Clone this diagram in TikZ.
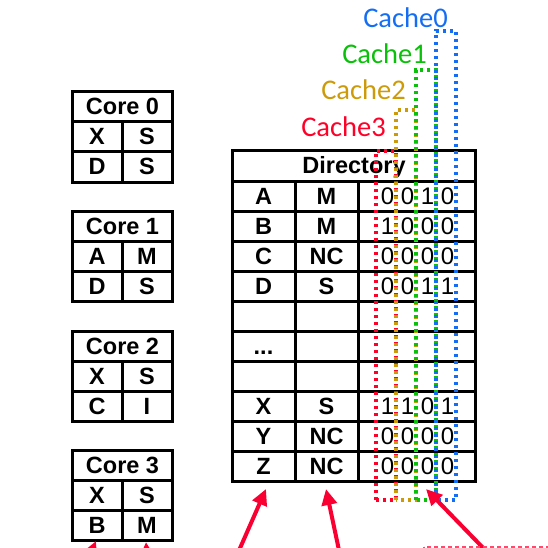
\documentclass[tikz,border=0pt]{standalone}
\usepackage{fontspec}
\setmainfont{Liberation Sans}
\newfontfamily\calfont{Carlito}
\usetikzlibrary{arrows.meta}
\definecolor{cblue}{RGB}{20,110,245}
\definecolor{cgreen}{RGB}{10,192,10}
\definecolor{cgold}{RGB}{205,155,10}
\definecolor{cred}{RGB}{255,0,40}
\definecolor{arred}{RGB}{250,0,50}
\tikzset{
  grid/.style={line width=3pt, line cap=rect},
  bl/.style={font=\fontsize{23.5}{23.5}\selectfont\bfseries, anchor=base, inner sep=0pt},
  bits/.style={font=\fontsize{24}{24}\selectfont, anchor=base, inner sep=0pt},
  cachelbl/.style={font=\calfont\fontsize{28.5}{28.5}\selectfont, anchor=base east, inner sep=0pt},
  dotbox/.style={line width=3.5pt, dash pattern=on 3.3pt off 3.7pt},
  redarrow/.style={draw=arred, line width=4pt, -{Triangle[length=16pt,width=15pt]}},
}
\begin{document}
\begin{tikzpicture}[x=1pt,y=-1pt]
\useasboundingbox (0,0) rectangle (548,548);
\clip (0,0) rectangle (548,548);
% Core tables
\foreach \t/\n/\a/\b/\c/\d in {92/0/X/S/D/S, 211/1/A/M/D/S, 331/2/X/S/C/I, 450/3/X/S/B/M}{
  \draw[grid] (72,\t) rectangle (172,\t+90);
  \draw[grid] (72,\t+30) -- (172,\t+30);
  \draw[grid] (72,\t+60) -- (172,\t+60);
  \draw[grid] (122,\t+30) -- (122,\t+90);
  \node[bl] (core\n) at (122.5,\t+23) {Core \n};
  \node[bl] (core\n a) at (97,\t+53) {\a};
  \node[bl] (core\n b) at (147,\t+53) {\b};
  \node[bl] (core\n c) at (97,\t+83) {\c};
  \node[bl] (core\n d) at (147,\t+83) {\d};
}
% Directory
\draw[grid] (232,151) rectangle (475,481);
\foreach \y in {181,211,...,451}{ \draw[grid] (232,\y) -- (475,\y); }
\draw[grid] (295,181) -- (295,481);
\draw[grid] (358,181) -- (358,481);
\node[bl] (dir) at (354,174) {Directory};
\foreach \i/\t/\a/\s/\v in {1/181/A/M/0 0 1 0, 2/211/B/M/1 0 0 0, 3/241/C/NC/0 0 0 0, 4/271/D/S/0 0 1 1, 8/391/X/S/1 1 0 1, 9/421/Y/NC/0 0 0 0, 10/451/Z/NC/0 0 0 0}{
  \node[bl] (r\i a) at (263.5,\t+23) {\a};
  \node[bl] (r\i s) at (326.5,\t+23) {\s};
  \node[bits] (r\i v) at (417.5,\t+23) {\v};
}
\node[bl] (dots) at (263.5,354) {...};
% Cache dotted boxes
\draw[dotbox, cred] (376,500) -- (376,151) -- (396,151) -- (396,500) -- cycle;
\draw[dotbox, cgold] (396,500) -- (396,110) -- (416,110) -- (416,500) -- cycle;
\draw[dotbox, cgreen] (416,500) -- (416,70) -- (436,70) -- (436,500) -- cycle;
\draw[dotbox, cblue] (436,500) -- (436,31) -- (456,31) -- (456,500) -- cycle;
\node[cachelbl, text=cblue] (c0) at (448,28) {Cache0};
\node[cachelbl, text=cgreen] (c1) at (427,64) {Cache1};
\node[cachelbl, text=cgold] (c2) at (406,100) {Cache2};
\node[cachelbl, text=cred] (c3) at (386,137) {Cache3};
% arrows
\coordinate (t1) at (96,541);
\coordinate (s1) at (74,592);
\coordinate (t2) at (146,542);
\coordinate (s2) at (150,600);
\coordinate (t3) at (266,489);
\coordinate (s3) at (237,555);
\coordinate (t4) at (326,489);
\coordinate (s4) at (340,555);
\coordinate (t5) at (426,489);
\coordinate (s5) at (490,555);
\foreach \k in {1,...,5}{ \draw[redarrow] (s\k) -- (t\k); }
% dashed box bottom right
\draw[draw=arred!70, line width=1.5pt, dash pattern=on 4pt off 3pt] (424,547) rectangle (560,600);
\end{tikzpicture}
\end{document}
